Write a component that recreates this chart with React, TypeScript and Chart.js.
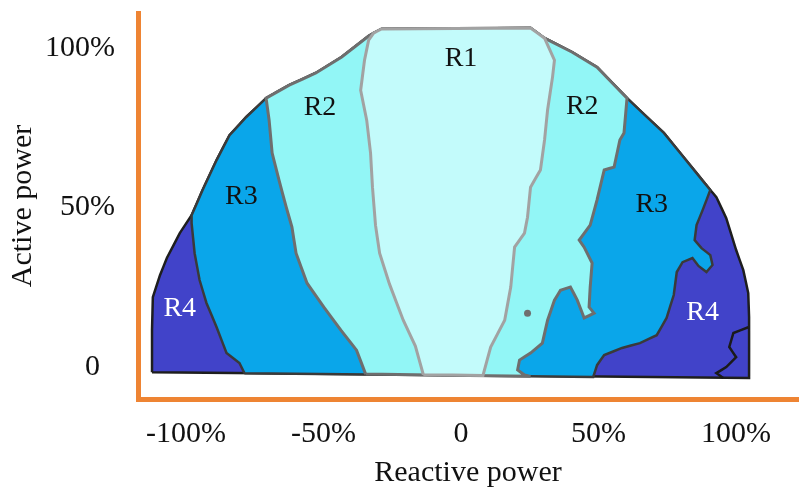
import React, { useEffect, useRef } from 'react';
import { Chart, registerables } from 'chart.js';

Chart.register(...registerables);

type P = [number, number];

// Axis ticks
const xTickValues = [-100, -50, 0, 50, 100];
const xTickLabels = ['-100%', '-50%', '0', '50%', '100%'];
const yTickValues = [0, 50, 100];
const yTickLabels = ['0', '50%', '100%'];

// Outer boundary of the operating region, split by the region it bounds (reactive %, active %)
const arcR4Left: P[] = [[-112.4, -1.6], [-112.4, 11.6], [-112.1, 21.9], [-109.5, 28.8], [-107.0, 34.2], [-102.3, 42.0]];
const arcR3Left: P[] = [[-94.0, 55.5], [-88.9, 64.9], [-84.2, 72.7], [-78.1, 78.4]];
const arcR2Left: P[] = [[-62.5, 88.4], [-52.8, 92.2], [-43.4, 97.2], [-33.6, 103.8]];
const arcR1Top: P[] = [[-28.9, 106.0], [25.3, 106.3]];
const arcR2Right: P[] = [[40.5, 98.7], [49.5, 94.0]];
const arcR3Right: P[] = [[73.8, 73.4], [85.7, 60.8]];
const arcR4Right: P[] = [[92.9, 53.3], [96.5, 46.7], [100.1, 36.7], [102.7, 30.4], [104.5, 23.2], [104.8, 15.7], [104.8, -3.4]];

// Region interfaces
const leftR34: P[] = [[-78.8, -1.9], [-80.6, 1.3], [-85.3, 4.4], [-88.9, 12.5], [-92.6, 20.1], [-95.1, 27.3], [-96.9, 35.7], [-98.0, 45.1], [-98.0, 47.6]];
const leftR23: P[] = [[-34.7, -2.2], [-38.0, 5.3], [-43.7, 11.6], [-49.9, 18.8], [-56.0, 26.3], [-60.0, 35.7], [-61.5, 43.9], [-63.6, 50.2], [-66.2, 58.6], [-68.7, 67.1], [-69.8, 77.4], [-70.9, 84.3]];
const leftR12: P[] = [[-13.7, -2.4], [-16.6, 6.6], [-21.0, 14.7], [-26.0, 26.0], [-29.6, 35.7], [-31.1, 44.5], [-32.2, 56.4], [-32.9, 67.1], [-34.3, 77.4], [-36.5, 86.8], [-35.1, 96.2], [-33.6, 102.5], [-31.8, 104.7]];
const rightR12: P[] = [[30.4, 103.1], [34.0, 96.2], [33.3, 90.9], [31.5, 80.6], [30.4, 71.2], [28.9, 61.8], [25.3, 56.4], [24.2, 47.0], [23.1, 42.0], [19.5, 37.6], [18.1, 25.1], [15.9, 14.7], [10.8, 6.3], [8.0, -2.6]];
const rightR23: P[] = [[60.4, 84.3], [59.3, 73.4], [57.8, 71.2], [55.7, 62.7], [52.1, 61.8], [49.5, 52.4], [47.0, 44.5], [43.0, 39.8], [44.8, 37.6], [47.7, 32.6], [47.0, 25.1], [46.6, 18.8], [48.4, 16.9], [44.8, 15.4], [42.3, 21.0], [39.8, 25.1], [36.2, 24.1], [34.0, 21.0], [31.5, 14.7], [29.6, 7.5], [25.3, 4.4], [21.3, 2.2], [20.6, -0.9], [23.1, -2.5], [25.3, -2.9]];
const rightR34: P[] = [[90.7, 55.5], [87.9, 49.2], [85.7, 44.5], [85.0, 39.8], [87.5, 37.3], [90.7, 35.1], [91.5, 32.0], [89.3, 29.8], [86.4, 31.7], [84.2, 34.2], [80.6, 32.9], [78.5, 29.8], [77.4, 22.6], [74.8, 15.4], [71.2, 10.0], [65.1, 7.5], [58.6, 6.0], [52.1, 3.8], [49.5, 0.6], [48.1, -3.1]];
const innerR4Edge: P[] = [[104.5, 12.5], [99.1, 10.7], [97.6, 6.3], [100.1, 3.1], [96.5, 0.0], [92.9, -1.9], [95.4, -3.4]];
const speckPoints: P[] = [[24.2, 16.9]];

// Region labels
const regionNames = ['R1', 'R2', 'R2', 'R3', 'R3', 'R4', 'R4'];
const regionLabelX = [0, -51.3, 44.1, -79.9, 69.4, -102.3, 87.9];
const regionLabelY = [96.6, 81.2, 81.5, 53.3, 50.8, 18.2, 17.2];

const SERIF = '"Liberation Serif", "Times New Roman", serif';
const ORANGE = '#ee8433';
const TEXT = '#111111';

const last = (a: P[]): P => a[a.length - 1];
const toXY = (pts: P[]) => pts.map(([x, y]) => ({ x, y }));
const closeRing = (pts: P[]) => toXY([...pts, pts[0]]);

const polyR1 = closeRing([...leftR12, ...arcR1Top, ...rightR12]);
const polyR2 = closeRing([...leftR23, ...arcR2Left, last(leftR12), ...arcR1Top, rightR12[0], ...arcR2Right, ...rightR23]);
const polyR3 = closeRing([
  ...leftR34, ...arcR3Left, last(leftR23), ...arcR2Left, last(leftR12), ...arcR1Top,
  rightR12[0], ...arcR2Right, rightR23[0], ...arcR3Right, ...rightR34,
]);
const polyR4 = closeRing([
  ...arcR4Left, last(leftR34), ...arcR3Left, last(leftR23), ...arcR2Left, last(leftR12), ...arcR1Top,
  rightR12[0], ...arcR2Right, rightR23[0], ...arcR3Right, rightR34[0], ...arcR4Right,
]);

const polyDataset = (data: any, fillColor: string, lineColor: string, width: number) => ({
  data,
  backgroundColor: fillColor,
  borderColor: lineColor,
  borderWidth: width,
  fill: 'shape',
  pointRadius: 0,
  pointHoverRadius: 0,
  tension: 0.001,
});

const regionLabelPlugin = {
  id: 'regionLabels',
  afterDatasetsDraw(chart: any) {
    const { ctx, scales } = chart;
    const xs = scales.x;
    const ys = scales.y;
    ctx.save();
    ctx.font = `28px ${SERIF}`;
    ctx.textAlign = 'center';
    ctx.textBaseline = 'middle';
    regionNames.forEach((name, i) => {
      ctx.fillStyle = name === 'R4' ? '#ffffff' : TEXT;
      ctx.fillText(name, xs.getPixelForValue(regionLabelX[i]), ys.getPixelForValue(regionLabelY[i]));
    });
    ctx.restore();
  },
};

export default function App() {
  const canvasRef = useRef<HTMLCanvasElement | null>(null);

  useEffect(() => {
    if (!canvasRef.current) return;
    const chart = new Chart(canvasRef.current, {
      type: 'line',
      data: {
        datasets: [
          {
            data: toXY(innerR4Edge),
            borderColor: '#1a1a1a',
            borderWidth: 2.5,
            fill: false,
            pointRadius: 0,
            tension: 0.001,
          } as any,
          {
            data: toXY(speckPoints),
            showLine: false,
            pointRadius: 3.5,
            pointBackgroundColor: '#6f6f6f',
            pointBorderWidth: 0,
          } as any,
          polyDataset(polyR1, '#c3fbfb', '#a2a2a2', 3) as any,
          polyDataset(polyR2, '#92f6f6', '#6e6e6e', 3) as any,
          polyDataset(polyR3, '#0aa6ea', '#3a3a3a', 2.5) as any,
          polyDataset(polyR4, '#4143c9', '#1e1e1e', 2.5) as any,
        ],
      },
      options: {
        responsive: true,
        maintainAspectRatio: false,
        animation: false,
        events: [],
        layout: { padding: { top: 13, left: 0, right: 0, bottom: 0 } },
        plugins: {
          legend: { display: false },
          tooltip: { enabled: false },
        },
        scales: {
          x: {
            type: 'linear',
            min: -117.5,
            max: 122.6,
            afterBuildTicks: (axis: any) => {
              axis.ticks = xTickValues.map((value) => ({ value }));
            },
            afterFit: (axis: any) => {
              axis.height = 99;
              axis.paddingLeft = 0;
              axis.paddingRight = 0;
            },
            grid: { display: false, drawTicks: false },
            border: { display: true, color: ORANGE, width: 5 },
            ticks: {
              autoSkip: false,
              maxRotation: 0,
              padding: 17,
              color: TEXT,
              font: { family: SERIF, size: 30 },
              callback: (_v: any, i: number) => xTickLabels[i],
            },
            title: {
              display: true,
              text: 'Reactive power',
              color: TEXT,
              font: { family: SERIF, size: 30 },
              padding: { top: 0, bottom: 7 },
            },
          },
          y: {
            type: 'linear',
            min: -10.0,
            max: 111.0,
            afterBuildTicks: (axis: any) => {
              axis.ticks = yTickValues.map((value) => ({ value }));
            },
            afterFit: (axis: any) => {
              axis.width = 138;
              axis.paddingTop = 0;
              axis.paddingBottom = 0;
            },
            grid: { display: false, drawTicks: false },
            border: { display: true, color: ORANGE, width: 5 },
            ticks: {
              autoSkip: false,
              padding: 23,
              color: TEXT,
              font: { family: SERIF, size: 30 },
              callback: (_v: any, i: number) => yTickLabels[i] + (yTickValues[i] === 0 ? '\u2002' : ''),
            },
            title: {
              display: true,
              text: 'Active power',
              color: TEXT,
              font: { family: SERIF, size: 30 },
              padding: { top: 5, bottom: 0 },
            },
          },
        },
      } as any,
      plugins: [regionLabelPlugin],
    });
    return () => chart.destroy();
  }, []);

  return (
    <div style={{ position: 'absolute', left: 0, top: 0, width: 802, height: 498, background: '#ffffff' }}>
      <canvas ref={canvasRef} />
    </div>
  );
}
